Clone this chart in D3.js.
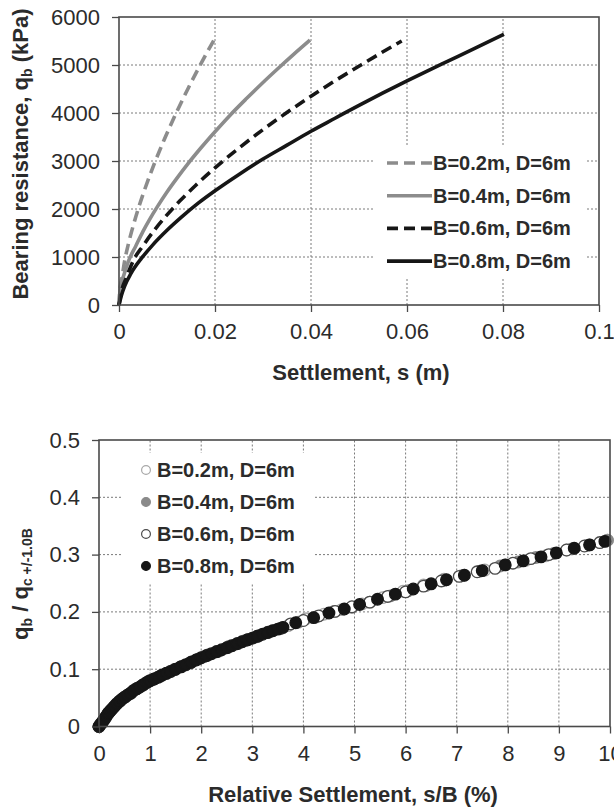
<!DOCTYPE html>
<html>
<head>
<meta charset="utf-8">
<script src="https://cdn.jsdelivr.net/npm/d3@7"></script>
<style>
  body { margin: 0; background: #fff; }
  svg { display: block; }
  text { font-family: "Liberation Sans", Arial, sans-serif; fill: #2b2b2b; }
</style>
</head>
<body>
<svg id="chart" width="614" height="810"></svg>
<script>
// ---------- Upper panel: bearing resistance vs settlement ----------
const seriesNames = ["B=0.2m, D=6m", "B=0.4m, D=6m", "B=0.6m, D=6m", "B=0.8m, D=6m"];

const settleTicks = [0, 0.02, 0.04, 0.06, 0.08, 0.1];
const qbTicks = [0, 1000, 2000, 3000, 4000, 5000, 6000];

const sB02 = [0, 0.0002, 0.0006, 0.0012, 0.002, 0.003, 0.004, 0.0055, 0.0073, 0.0095, 0.0121, 0.0145, 0.0167, 0.0183, 0.0198];
const qB02 = [0, 330, 560, 930, 1290, 1666, 2000, 2448, 2930, 3464, 4040, 4532, 4957, 5253, 5520];

const sB04 = [0, 0.0003, 0.001, 0.002, 0.0035, 0.005, 0.0063, 0.008, 0.01, 0.0122, 0.0141, 0.017, 0.02, 0.0231, 0.0265, 0.03, 0.0329, 0.0365, 0.0398];
const qB04 = [0, 380, 620, 920, 1230, 1535, 1770, 2050, 2355, 2660, 2910, 3265, 3610, 3950, 4295, 4636, 4906, 5232, 5520];

const sB06 = [0, 0.0005, 0.0015, 0.003, 0.005, 0.0075, 0.01, 0.0127, 0.016, 0.02, 0.0245, 0.03, 0.0349, 0.04, 0.045, 0.0505, 0.055, 0.0589];
const qB06 = [0, 280, 560, 930, 1233, 1577, 1877, 2170, 2496, 2857, 3231, 3654, 4004, 4349, 4671, 5006, 5275, 5500];

const sB08 = [0, 0.0005, 0.0012, 0.0025, 0.0047, 0.007, 0.01, 0.013, 0.0165, 0.02, 0.025, 0.03, 0.035, 0.04, 0.045, 0.05, 0.055, 0.06, 0.0672, 0.074, 0.0802];
const qB08 = [0, 200, 400, 660, 975, 1248, 1556, 1830, 2122, 2380, 2720, 3040, 3330, 3620, 3890, 4160, 4420, 4670, 5020, 5340, 5640];

// ---------- Lower panel: normalised resistance vs relative settlement ----------
const relTicks = [0, 1, 2, 3, 4, 5, 6, 7, 8, 9, 10];
const ratioTicks = [0, 0.1, 0.2, 0.3, 0.4, 0.5];

const rB02 = [0, 0.03, 0.07, 0.11, 0.16, 0.22, 0.3, 0.4, 0.5, 0.6, 0.72, 0.86, 1.0, 1.15, 1.3, 1.48, 1.68, 1.9, 2.12, 2.36, 2.6, 2.86, 3.12, 3.4, 3.7, 4.05, 4.4, 4.75, 5.15, 5.55, 5.95, 6.35, 6.75, 7.15, 7.55, 7.95, 8.35, 8.75, 9.15, 9.55, 9.95];
const yB02 = [0, 0.004, 0.008, 0.013, 0.020, 0.027, 0.035, 0.044, 0.051, 0.057, 0.065, 0.072, 0.08, 0.086, 0.092, 0.099, 0.107, 0.116, 0.124, 0.132, 0.141, 0.150, 0.158, 0.167, 0.176, 0.188, 0.196, 0.204, 0.214, 0.225, 0.236, 0.247, 0.257, 0.264, 0.273, 0.282, 0.29, 0.298, 0.308, 0.316, 0.325];

const rB04 = [0, 0.06, 0.12, 0.2, 0.28, 0.38, 0.5, 0.62, 0.75, 0.9, 1.05, 1.22, 1.4, 1.6, 1.82, 2.05, 2.3, 2.55, 2.8, 3.05, 3.3, 3.58, 3.9, 4.25, 4.6, 4.95, 5.3, 5.7, 6.05, 6.4, 6.75, 7.1, 7.45, 7.85, 8.2, 8.55, 8.9, 9.25, 9.6, 9.95];
const yB04 = [0, 0.007, 0.014, 0.025, 0.033, 0.042, 0.051, 0.058, 0.067, 0.075, 0.082, 0.089, 0.096, 0.104, 0.113, 0.122, 0.131, 0.140, 0.148, 0.156, 0.164, 0.172, 0.182, 0.191, 0.201, 0.208, 0.217, 0.228, 0.237, 0.246, 0.255, 0.263, 0.271, 0.28, 0.287, 0.295, 0.302, 0.31, 0.317, 0.325];

const rB06 = [0, 0.04, 0.08, 0.13, 0.18, 0.24, 0.32, 0.42, 0.52, 0.63, 0.74, 0.85, 0.96, 1.08, 1.2, 1.33, 1.47, 1.62, 1.78, 1.95, 2.13, 2.32, 2.52, 2.72, 2.92, 3.12, 3.33, 3.55, 3.75, 4.0, 4.3, 4.62, 4.95, 5.3, 5.65, 6.0, 6.35, 6.7, 7.05, 7.4, 7.75, 8.1, 8.45, 8.8, 9.15, 9.5, 9.8];
const yB06 = [0, 0.005, 0.010, 0.016, 0.023, 0.029, 0.037, 0.045, 0.052, 0.059, 0.066, 0.072, 0.078, 0.083, 0.088, 0.093, 0.099, 0.105, 0.111, 0.118, 0.125, 0.131, 0.138, 0.145, 0.152, 0.158, 0.165, 0.171, 0.179, 0.185, 0.193, 0.201, 0.209, 0.217, 0.227, 0.235, 0.245, 0.254, 0.262, 0.270, 0.276, 0.285, 0.293, 0.300, 0.308, 0.315, 0.321];

const rB08 = [0, 0.03, 0.06, 0.1, 0.14, 0.18, 0.22, 0.26, 0.3, 0.35, 0.4, 0.45, 0.5, 0.56, 0.62, 0.68, 0.74, 0.8, 0.87, 0.94, 1.0, 1.08, 1.16, 1.24, 1.32, 1.4, 1.5, 1.6, 1.7, 1.8, 1.9, 2.0, 2.1, 2.2, 2.3, 2.4, 2.5, 2.6, 2.7, 2.8, 2.9, 3.0, 3.1, 3.2, 3.3, 3.4, 3.5, 3.6, 3.85, 4.2, 4.5, 4.8, 5.1, 5.45, 5.8, 6.15, 6.5, 6.8, 7.15, 7.5, 7.95, 8.3, 8.65, 8.95, 9.3, 9.6, 9.9];
const yB08 = [0, 0.004, 0.007, 0.012, 0.018, 0.023, 0.027, 0.031, 0.035, 0.040, 0.044, 0.048, 0.051, 0.055, 0.058, 0.063, 0.066, 0.069, 0.073, 0.077, 0.08, 0.083, 0.086, 0.090, 0.093, 0.096, 0.1, 0.104, 0.108, 0.112, 0.116, 0.12, 0.1235, 0.127, 0.1305, 0.134, 0.1375, 0.141, 0.1445, 0.148, 0.151, 0.154, 0.1575, 0.161, 0.164, 0.167, 0.170, 0.173, 0.181, 0.19, 0.198, 0.205, 0.213, 0.222, 0.231, 0.24, 0.249, 0.256, 0.264, 0.272, 0.282, 0.289, 0.296, 0.303, 0.311, 0.317, 0.323];

// ---------- styles ----------
const lineStyles = [
  { color: "#8c8c8c", dash: "11,6" },
  { color: "#8c8c8c", dash: null },
  { color: "#161616", dash: "11,6" },
  { color: "#161616", dash: null }
];
const markerStyles = [
  { fill: "#ffffff", stroke: "#a8a8a8" },
  { fill: "#8a8a8a", stroke: "#8a8a8a" },
  { fill: "#ffffff", stroke: "#4a4a4a" },
  { fill: "#161616", stroke: "#161616" }
];

const svg = d3.select("#chart");
const zip = (a, b) => a.map((v, i) => [v, b[i]]);

function drawGrid(g, x, y, xt, yt) {
  const [x0, x1] = x.range();
  const [y0, y1] = y.range();
  const grid = g.append("g").attr("stroke", "#7a7a7a").attr("stroke-width", 1).attr("stroke-dasharray", "2,2");
  xt.slice(1, -1).forEach(t => grid.append("line")
    .attr("x1", x(t)).attr("x2", x(t)).attr("y1", y0).attr("y2", y1));
  yt.slice(1, -1).forEach(t => grid.append("line")
    .attr("y1", y(t)).attr("y2", y(t)).attr("x1", x0).attr("x2", x1));
}

function drawAxes(g, x, y, xt, yt, xfmt, yfmt) {
  const [x0, x1] = x.range();
  const [y0, y1] = y.range();
  g.append("rect")
    .attr("x", x0).attr("y", y1).attr("width", x1 - x0).attr("height", y0 - y1)
    .attr("fill", "none").attr("stroke", "#4a4a4a").attr("stroke-width", 1.6);
  const xa = g.append("g").attr("transform", `translate(0,${y0})`)
    .call(d3.axisBottom(x).tickValues(xt).tickSize(7).tickPadding(11.5).tickFormat(xfmt));
  const ya = g.append("g").attr("transform", `translate(${x0},0)`)
    .call(d3.axisLeft(y).tickValues(yt).tickSize(7).tickPadding(12).tickFormat(yfmt));
  [xa, ya].forEach(a => {
    a.select(".domain").remove();
    a.selectAll(".tick line").attr("stroke", "#4a4a4a").attr("stroke-width", 1.3);
    a.selectAll(".tick text").attr("font-size", 22).attr("fill", "#2b2b2b")
      .style("font-family", "'Liberation Sans', Arial, sans-serif");
  });
}

const fmt = d => String(d);

// ===== Upper panel =====
const xTop = d3.scaleLinear().domain([0, 0.1]).range([119, 599]);
const yTop = d3.scaleLinear().domain([0, 6000]).range([305, 17]);
const gTop = svg.append("g");
drawGrid(gTop, xTop, yTop, settleTicks, qbTicks);

// legend background hides the grid beneath it
gTop.append("rect").attr("x", 375).attr("y", 147).attr("width", 210).attr("height", 132).attr("fill", "#fff");

const topSeries = [zip(sB02, qB02), zip(sB04, qB04), zip(sB06, qB06), zip(sB08, qB08)];
const lineTop = d3.line().x(d => xTop(d[0])).y(d => yTop(d[1])).curve(d3.curveMonotoneX);
topSeries.forEach((pts, i) => {
  gTop.append("path").datum(pts).attr("d", lineTop)
    .attr("fill", "none").attr("stroke", lineStyles[i].color).attr("stroke-width", 3.6)
    .attr("stroke-dasharray", lineStyles[i].dash);
});

drawAxes(gTop, xTop, yTop, settleTicks, qbTicks, fmt, fmt);

// legend
seriesNames.forEach((name, i) => {
  const cy = 163 + i * 32.7;
  gTop.append("line").attr("x1", 387).attr("x2", 432).attr("y1", cy).attr("y2", cy)
    .attr("stroke", lineStyles[i].color).attr("stroke-width", 3.6)
    .attr("stroke-dasharray", lineStyles[i].dash);
  gTop.append("text").attr("x", 433).attr("y", cy + 7).attr("font-size", 20)
    .attr("font-weight", "bold").text(name);
});

// axis titles
gTop.append("text").attr("x", 361).attr("y", 380).attr("text-anchor", "middle")
  .attr("font-size", 22).attr("font-weight", "bold").text("Settlement, s (m)");
const tyTop = gTop.append("text").attr("transform", "translate(28,154) rotate(-90)")
  .attr("text-anchor", "middle").attr("font-size", 22).attr("font-weight", "bold");
tyTop.append("tspan").text("Bearing resistance, q");
tyTop.append("tspan").attr("font-size", 14).attr("dy", 4).text("b");
tyTop.append("tspan").attr("dy", -4).text(" (kPa)");

// ===== Lower panel =====
const xBot = d3.scaleLinear().domain([0, 10]).range([99, 610]);
const yBot = d3.scaleLinear().domain([0, 0.5]).range([726.5, 440]);
const gBot = svg.append("g");
drawGrid(gBot, xBot, yBot, relTicks, ratioTicks);
gBot.append("rect").attr("x", 122).attr("y", 453).attr("width", 193).attr("height", 130).attr("fill", "#fff");

const botSeries = [zip(rB02, yB02), zip(rB04, yB04), zip(rB06, yB06), zip(rB08, yB08)];
botSeries.forEach((pts, i) => {
  gBot.append("g").selectAll("circle").data(pts).join("circle")
    .attr("cx", d => xBot(d[0])).attr("cy", d => yBot(d[1])).attr("r", 5.8)
    .attr("fill", markerStyles[i].fill).attr("stroke", markerStyles[i].stroke).attr("stroke-width", 1.3);
});

drawAxes(gBot, xBot, yBot, relTicks, ratioTicks, fmt, fmt);

seriesNames.forEach((name, i) => {
  const cy = 470 + i * 32;
  gBot.append("circle").attr("cx", 146).attr("cy", cy).attr("r", 4.4)
    .attr("fill", markerStyles[i].fill).attr("stroke", markerStyles[i].stroke).attr("stroke-width", 1.2);
  gBot.append("text").attr("x", 157).attr("y", cy + 7).attr("font-size", 20)
    .attr("font-weight", "bold").text(name);
});

gBot.append("text").attr("x", 353).attr("y", 802).attr("text-anchor", "middle")
  .attr("font-size", 22).attr("font-weight", "bold").text("Relative Settlement, s/B (%)");
const tyBot = gBot.append("text").attr("transform", "translate(28,584) rotate(-90)")
  .attr("text-anchor", "middle").attr("font-size", 22).attr("font-weight", "bold");
tyBot.append("tspan").text("q");
tyBot.append("tspan").attr("font-size", 14).attr("dy", 4).text("b");
tyBot.append("tspan").attr("dy", -4).text(" / q");
tyBot.append("tspan").attr("font-size", 14).attr("dy", 4).text("c +/-1.0B");
</script>
</body>
</html>
